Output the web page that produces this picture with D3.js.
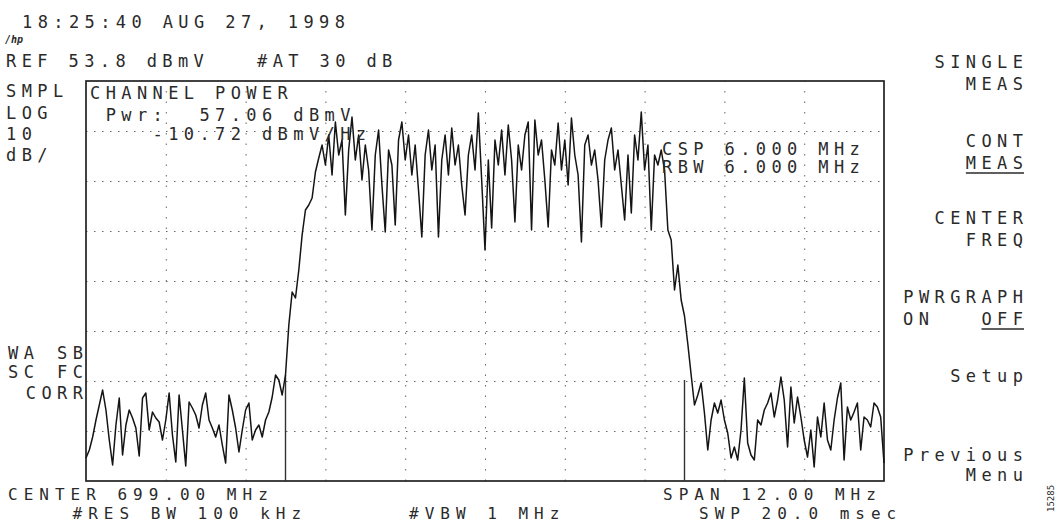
<!DOCTYPE html>
<html>
<head>
<meta charset="utf-8">
<script src="https://cdn.jsdelivr.net/npm/d3@7"></script>
<style>
  body { margin: 0; background: #fff; }
  text { font-family: "DejaVu Sans Mono", monospace; font-size: 17px; letter-spacing: 5.4px; fill: #2a2a2a; }
  text.bottom { font-size: 16px; letter-spacing: 6px; }
</style>
</head>
<body>
<svg id="chart"></svg>
<script>
// analyzer settings
const startFreq = 693, stopFreq = 705;     // MHz (center 699, span 12)
const refLevel = 53.8, dbPerDiv = 10;      // dBmV, LOG 10 dB/
const channelEdges = [696, 702];            // CSP 6 MHz channel
const markerTops = [-5, -6];                // dBmV, top of the channel edge lines

// trace, dBmV, one value per 50 kHz from 693 to 705 MHz
const trace = [
  -21.6,-20,-17.4,-14,-11,-8,-12,-18,-23,-15,
  -9.6,-21,-15,-12,-13.6,-15.6,-21.2,-9.6,-8.6,-16,
  -12.4,-13.6,-14.4,-18,-14,-8.6,-17,-22.4,-9,-16,
  -23.2,-10.4,-11.6,-13,-15.6,-11,-8.6,-14,-15.6,-17.4,
  -15,-19,-22.6,-9,-12,-15.6,-20.4,-16,-12,-10.6,
  -18,-16,-15,-17.4,-14,-12.4,-9.4,-5,-6,-9,
  -5,
  5,11.6,10.4,16,23,28,29,30.4,35.6,38.4,
  41,37,43,35,45.6,39,42,27,40,46.6,
  38,43,34,41,36,24,39,44,33,23.6,
  40,37,25,42,45.6,38,43,35,41,32,
  22.6,39,44,36,41,22.6,38,43,35,44.4,
  37,41,33,27,39,43,36,47.4,34,20,
  38,24.4,42,37,44,35,45,38,25.6,41,
  36,43,45.6,24,46,39,42,34,24.6,40,
  37,45.4,36,42,33,46.4,39,35,21.6,41,
  43,37,40,34,24.6,38,42,44.4,36,40,
  33,26,39,27.4,43,38,47.6,36,41,24,
  39,37,40,36,
  24,22,12,17,10,6.8,1.2,-5,-11,
  -9,-6.6,-12.6,-20,-14,-10.6,-12.6,-10,-14,-16.6,
  -21.6,-19.4,-22,-16,-5.6,-18.6,-21,-22,-14,-15,
  -12,-10.6,-8.6,-13.4,-10,-5.4,-10,-19.4,-7.4,-14.6,
  -9.4,-13.4,-18,-21.4,-16,-23.4,-13.4,-17.4,-10.6,-18,
  -20,-14,-9.6,-6.6,-22,-11.4,-14,-12.4,-10.6,-20,
  -13.4,-14,-15.4,-10.6,-11.4,-13.4,-22.6
];

// annotation texts
const dateText = "18:25:40 AUG 27, 1998";
const refText = "REF 53.8 dBmV";
const attenText = "#AT 30 dB";
const scaleLabels = ["SMPL", "LOG", "10", "dB/"];
const powerLabels = ["CHANNEL POWER", " Pwr:  57.06 dBmV", "    -10.72 dBmV/Hz"];
const bwLabels = ["CSP 6.000 MHz", "RBW 6.000 MHz"];
const statusLabels = [["WA", "SB"], ["SC", "FC"], ["", "CORR"]];
const bottomLeft = ["CENTER 699.00 MHz", "    #RES BW 100 kHz"];
const bottomMid = "#VBW 1 MHz";
const bottomRight = ["SPAN 12.00 MHz", "SWP 20.0 msec"];
const menuItems = [["SINGLE", "MEAS"], ["CONT", "MEAS"], ["CENTER", "FREQ"], ["PWRGRAPH", "OFF"], ["Setup"], ["Previous", "Menu"]];
const figureId = "15285";

const W = 1061, H = 524;
const plot = {left: 86, right: 884, top: 81, bottom: 481};
const ls = 5.4;

const svg = d3.select("#chart").attr("width", W).attr("height", H);

const x = d3.scaleLinear().domain([startFreq, stopFreq]).range([plot.left, plot.right]);
const y = d3.scaleLinear().domain([refLevel - dbPerDiv * 8, refLevel]).range([plot.bottom, plot.top]);

const freqs = trace.map((d, i) => startFreq + i * (stopFreq - startFreq) / (trace.length - 1));

// dotted graticule
const span = stopFreq - startFreq;
svg.append("g")
    .attr("transform", `translate(0,${plot.bottom})`)
    .call(d3.axisBottom(x)
        .tickValues(d3.range(1, 10).map(k => startFreq + k * span / 10))
        .tickSize(-(plot.bottom - plot.top))
        .tickFormat(""))
    .call(g => g.select(".domain").remove())
    .selectAll("line")
    .attr("stroke", "#666")
    .attr("stroke-dasharray", "1.5,9");

svg.append("g")
    .attr("transform", `translate(${plot.left},0)`)
    .call(d3.axisLeft(y)
        .tickValues(d3.range(1, 8).map(k => refLevel - k * dbPerDiv))
        .tickSize(-(plot.right - plot.left))
        .tickFormat(""))
    .call(g => g.select(".domain").remove())
    .selectAll("line")
    .attr("stroke", "#666")
    .attr("stroke-dasharray", "1.5,6.5");

// frame
svg.append("rect")
    .attr("x", plot.left).attr("y", plot.top)
    .attr("width", plot.right - plot.left).attr("height", plot.bottom - plot.top)
    .attr("fill", "none").attr("stroke", "#222").attr("stroke-width", 1.7);

// channel edge lines
svg.selectAll("line.edge")
    .data(channelEdges)
    .join("line")
    .attr("class", "edge")
    .attr("x1", d => x(d)).attr("x2", d => x(d))
    .attr("y1", (d, i) => y(markerTops[i]))
    .attr("y2", plot.bottom)
    .attr("stroke", "#333").attr("stroke-width", 1.4);

// trace
const line = d3.line()
    .x((d, i) => x(freqs[i]))
    .y(d => y(d));

svg.append("path")
    .datum(trace)
    .attr("d", line)
    .attr("fill", "none")
    .attr("stroke", "#141414")
    .attr("stroke-width", 1.5)
    .attr("stroke-linejoin", "round");

// text helpers
function label(t, px, py, anchor) {
  return svg.append("text")
      .attr("x", anchor === "end" ? px + ls : px)
      .attr("y", py)
      .attr("text-anchor", anchor || "start")
      .attr("xml:space", "preserve")
      .text(t);
}

label(dateText, 22, 28);
svg.append("text").attr("x", 5).attr("y", 43)
    .style("font-size", "10px").style("letter-spacing", "0px")
    .style("font-style", "italic").style("font-weight", "bold")
    .text("/hp");
label(refText, 6, 67);
label(attenText, 257, 67);

scaleLabels.forEach((t, i) => label(t, 6, [97, 119, 140, 161][i]));
powerLabels.forEach((t, i) => label(t, 90, [99, 121, 140][i]));
bwLabels.forEach((t, i) => label(t, 662, [155, 173][i]));

statusLabels.forEach((row, i) => {
  const py = [359, 378, 399][i];
  if (row[0]) label(row[0], 8, py);
  label(row[1], 83, py, "end");
});

// bottom annotation rows
label(bottomLeft[0], 8, 500).attr("class", "bottom");
label(bottomLeft[1], 10, 519).attr("class", "bottom");
label(bottomMid, 409, 519).attr("class", "bottom");
label(bottomRight[0], 663, 500).attr("class", "bottom");
label(bottomRight[1], 699, 519).attr("class", "bottom");

// softkey menu
const menuY = [68, 147, 224, 303, 382, 461];
const menuGap = [22, 22, 22, 22, 0, 20];
const menuRight = 1023;
menuItems.forEach((item, i) => {
  item.forEach((t, j) => {
    const el = label(t, menuRight, menuY[i] + j * menuGap[i], "end");
    if ((i === 1 || i === 3) && j === 1) {
      const w = el.node().getComputedTextLength() - ls;
      svg.append("line")
          .attr("x1", menuRight - w).attr("x2", menuRight + 1)
          .attr("y1", menuY[i] + j * menuGap[i] + 4).attr("y2", menuY[i] + j * menuGap[i] + 4)
          .attr("stroke", "#2a2a2a").attr("stroke-width", 1.6);
    }
  });
});
label("ON", 903, menuY[3] + menuGap[3]);

svg.append("text")
    .attr("transform", "translate(1054,512) rotate(-90)")
    .style("font-size", "9px").style("letter-spacing", "0px")
    .text(figureId);
</script>
</body>
</html>
